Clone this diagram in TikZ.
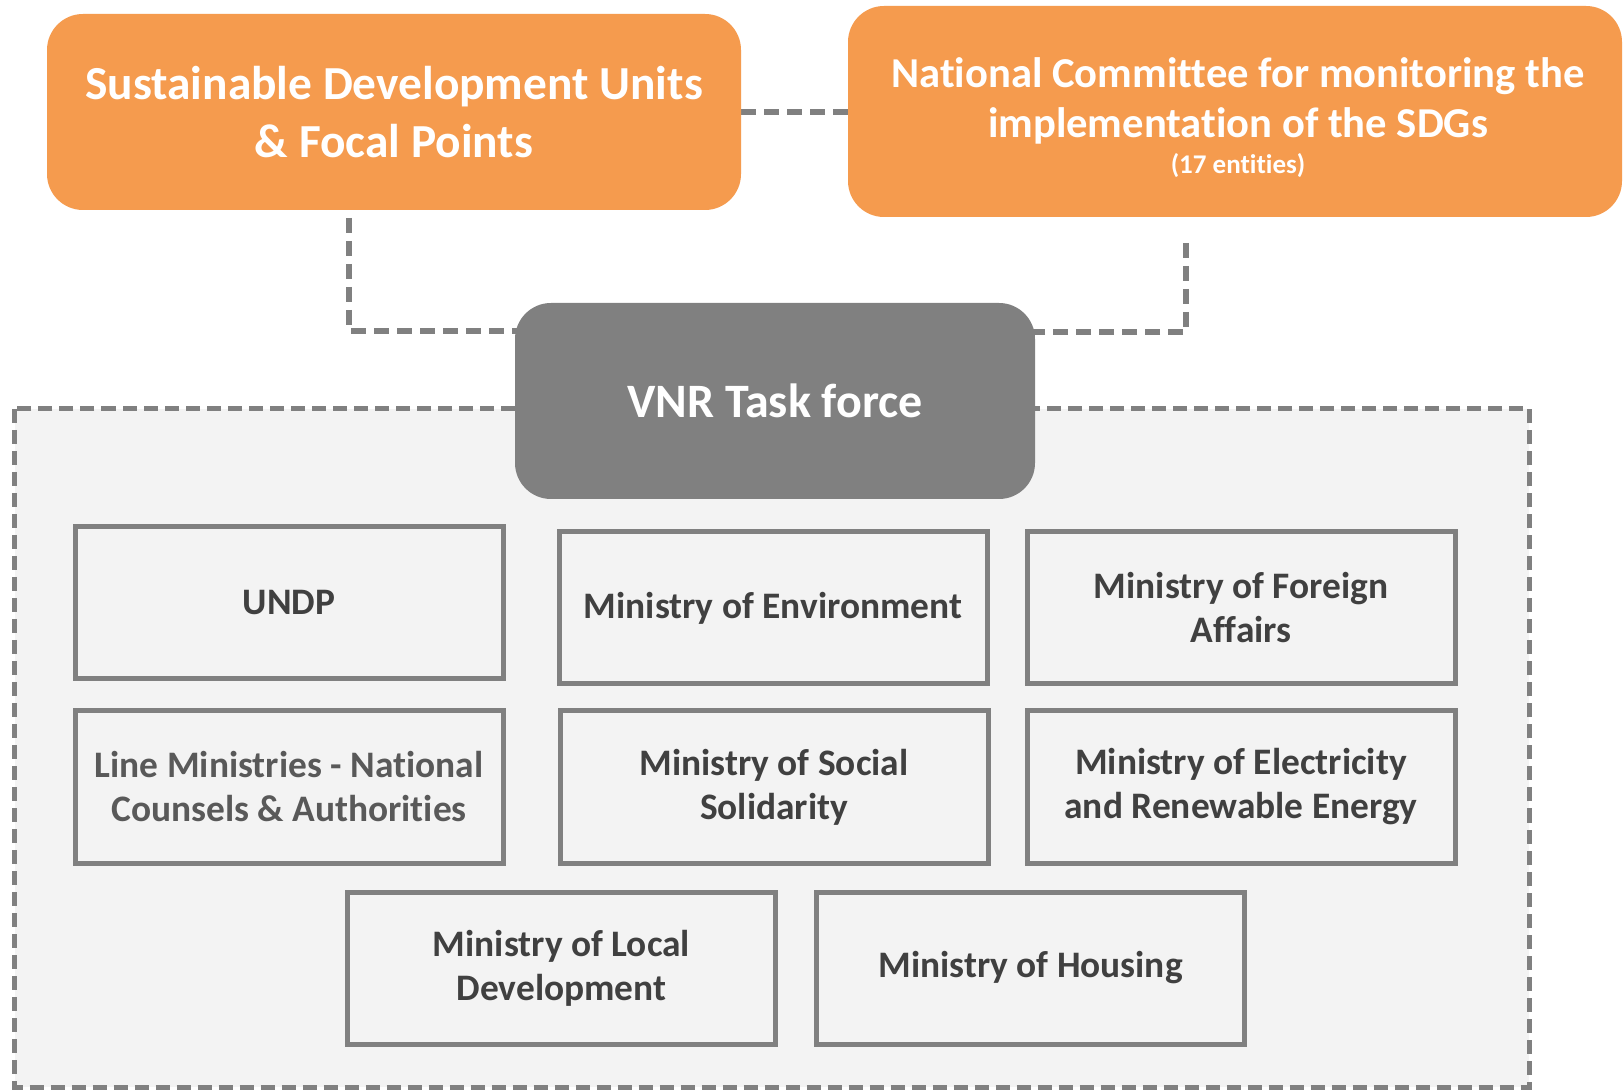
\documentclass[tikz,border=0pt]{standalone}
\usepackage{fontspec}
\setmainfont{Carlito}[Ligatures=NoCommon]
\usetikzlibrary{backgrounds}
\definecolor{orng}{HTML}{F59B4E}
\definecolor{boxgray}{HTML}{808080}
\definecolor{txtgray}{HTML}{404040}
\definecolor{lightgray}{HTML}{595959}
\definecolor{regfill}{HTML}{F3F3F3}
\tikzset{
  orangebox/.style={draw=none, fill=orng, rounded corners=18pt, text=white, align=center, font=\bfseries, inner sep=0pt},
  whitetext/.style={text=white, align=center, inner sep=0pt},
  vnrbox/.style={draw=none, fill=boxgray, rounded corners=18pt, text=white, align=center, font=\bfseries\fontsize{24}{28}\selectfont, minimum width=260pt, minimum height=98pt, inner sep=0pt},
  member/.style={draw=boxgray, line width=2.5pt, fill=regfill, minimum width=214pt, minimum height=76pt, align=center, text=txtgray, font=\bfseries\fontsize{18.7}{22}\selectfont, inner sep=0pt},
  conn/.style={draw=boxgray, line width=3pt, dash pattern=on 7.5pt off 4pt},
  region/.style={draw=boxgray, line width=2.5pt, dash pattern=on 7pt off 3.5pt, fill=regfill}
}
\begin{document}
\begin{tikzpicture}[x=0.5pt, y=-0.5pt]
\useasboundingbox (0,0) rectangle (1623,1090);
\node[orangebox, minimum width=347pt, minimum height=98pt, font=\bfseries\fontsize{23.7}{29}\selectfont] (lo) at (394,112) {Sustainable Development Units\\ \& Focal Points};
\node[orangebox, minimum width=387pt, minimum height=105.5pt] (ro) at (1235,111.5) {};
\node[whitetext, font=\bfseries\fontsize{21.3}{25}\selectfont] (rotxt) at (1238,118) {National Committee for monitoring the\\implementation of the SDGs\\[-7pt]{\fontsize{13.5}{15}\selectfont (17 entities)}};
\node[vnrbox] (vnr) at (775,401) {VNR Task force};
\node[member] (undp) at (289,603) {UNDP};
\node[member] (env) at (773,608) {Ministry of Environment};
\node[member] (fa) at (1241,608) {Ministry of Foreign\\Affairs};
\node[member, text=lightgray] (line) at (289,787) {Line Ministries - National\\Counsels \& Authorities};
\node[member] (soc) at (774,787) {Ministry of Social\\Solidarity};
\node[member] (elec) at (1241,787) {Ministry of Electricity\\and Renewable Energy};
\node[member] (loc) at (561.5,968) {Ministry of Local\\Development};
\node[member] (hous) at (1030.5,968) {Ministry of Housing};
\coordinate (c1) at (349,218);
\coordinate (c2) at (1186,243);
\begin{scope}[on background layer]
\fill[white] (0,0) rectangle (1623,1090);
\draw[region] (14.5,409) rectangle (1529,1087);
\draw[conn] (lo.east) -- (ro.west |- lo.east);
\draw[conn] (c1) -- (c1 |- 0,331) -- (vnr.center |- 0,331);
\draw[conn] (c2) -- (c2 |- 0,332) -- (vnr.center |- 0,332);
\end{scope}
\end{tikzpicture}
\end{document}
